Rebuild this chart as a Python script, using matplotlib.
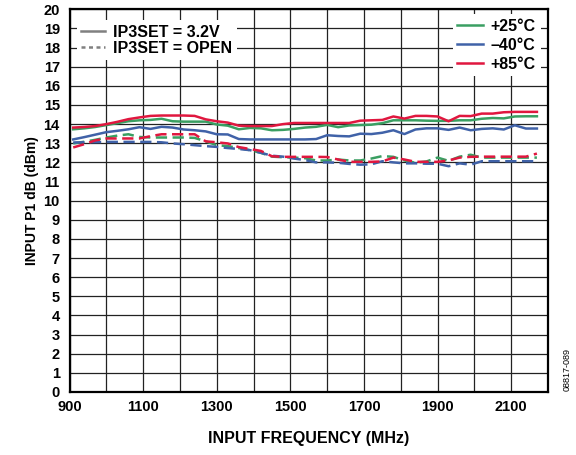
import matplotlib
matplotlib.use('Agg')
import matplotlib.pyplot as plt
from matplotlib.lines import Line2D

plt.rcParams['font.family'] = ['Liberation Sans', 'DejaVu Sans']
plt.rcParams['font.weight'] = 'bold'

freq = [910, 940, 970, 1000, 1030, 1060, 1090, 1120, 1150, 1180, 1210, 1240, 1270,
        1300, 1330, 1360, 1390, 1420, 1450, 1480, 1510, 1540, 1570, 1600, 1630, 1660,
        1690, 1720, 1750, 1780, 1810, 1840, 1870, 1900, 1930, 1960, 1990, 2020, 2050,
        2080, 2110, 2140, 2170]

# IP3SET = 3.2V (solid)
p25_32v = [13.73, 13.78, 13.85, 13.95, 14.05, 14.15, 14.2, 14.22, 14.28, 14.15, 14.13, 14.13, 14.13,
           13.98, 13.92, 13.73, 13.8, 13.78, 13.68, 13.7, 13.75, 13.82, 13.86, 13.96, 13.84, 13.93,
           13.95, 13.97, 14.05, 14.2, 14.2, 14.2, 14.18, 14.17, 14.17, 14.2, 14.2, 14.28, 14.32,
           14.3, 14.4, 14.41, 14.41]
m40_32v = [13.2, 13.32, 13.45, 13.58, 13.65, 13.73, 13.84, 13.75, 13.86, 13.82, 13.72, 13.68, 13.62,
           13.47, 13.46, 13.22, 13.2, 13.2, 13.2, 13.2, 13.2, 13.2, 13.22, 13.42, 13.38, 13.36,
           13.5, 13.48, 13.55, 13.68, 13.48, 13.72, 13.78, 13.78, 13.7, 13.82, 13.68, 13.75, 13.78,
           13.72, 13.94, 13.77, 13.77]
p85_32v = [13.82, 13.85, 13.9, 14.0, 14.12, 14.26, 14.35, 14.43, 14.45, 14.45, 14.45, 14.43, 14.25,
           14.15, 14.08, 13.92, 13.9, 13.9, 13.9, 14.0, 14.06, 14.06, 14.06, 14.06, 14.06, 14.06,
           14.18, 14.2, 14.22, 14.4, 14.29, 14.43, 14.43, 14.4, 14.15, 14.43, 14.42, 14.55, 14.55,
           14.62, 14.64, 14.64, 14.64]

# IP3SET = OPEN (dashed)
p25_open = [12.99, 13.08, 13.18, 13.3, 13.4, 13.47, 13.33, 13.3, 13.3, 13.3, 13.3, 13.28, 13.1,
            12.9, 12.85, 12.75, 12.64, 12.5, 12.3, 12.27, 12.25, 12.22, 12.1, 12.1, 12.15, 12.1,
            12.1, 12.2, 12.33, 12.29, 12.1, 11.98, 12.05, 12.25, 12.08, 12.3, 12.4, 12.25, 12.25,
            12.25, 12.25, 12.25, 12.25]
m40_open = [13.04, 13.05, 13.06, 13.07, 13.07, 13.07, 13.07, 13.07, 13.05, 12.99, 12.95, 12.9, 12.85,
            12.81, 12.75, 12.7, 12.64, 12.5, 12.35, 12.3, 12.2, 12.12, 12.0, 12.0, 11.98, 11.92,
            11.88, 11.9, 12.06, 12.0, 11.95, 11.95, 11.93, 11.93, 11.8, 11.95, 11.88, 12.06, 12.06,
            12.06, 12.06, 12.06, 12.06]
p85_open = [12.78, 12.95, 13.15, 13.25, 13.25, 13.25, 13.25, 13.37, 13.47, 13.47, 13.47, 13.47, 13.1,
            13.05, 12.99, 12.8, 12.7, 12.6, 12.32, 12.29, 12.29, 12.29, 12.29, 12.28, 12.15, 12.03,
            12.03, 12.03, 12.05, 12.25, 12.15, 12.03, 12.03, 12.03, 12.1, 12.25, 12.29, 12.3, 12.3,
            12.3, 12.3, 12.3, 12.46]

green = '#3a9f62'
blue = '#4062a8'
red = '#e0173f'

fig = plt.figure(figsize=(5.76, 4.55), dpi=100)
ax = fig.add_axes([0.1207, 0.1385, 0.8306, 0.841])

dash = (0, (4.5, 2.2))
lw = 1.8
ax.plot(freq, p25_open, color=green, lw=lw, ls=dash)
ax.plot(freq, m40_open, color=blue, lw=lw, ls=dash)
ax.plot(freq, p85_open, color=red, lw=lw, ls=dash)
ax.plot(freq, p25_32v, color=green, lw=lw)
ax.plot(freq, m40_32v, color=blue, lw=lw)
ax.plot(freq, p85_32v, color=red, lw=lw)

ax.set_xlim(900, 2200)
ax.set_ylim(0, 20)
ax.set_xticks(range(900, 2201, 100))
ax.set_xticklabels([str(f) if (f - 900) % 200 == 0 and f < 2200 else '' for f in range(900, 2201, 100)])
ax.set_yticks(range(0, 21))
ax.tick_params(length=0, labelsize=10.5)
ax.tick_params(axis='x', pad=6)
ax.tick_params(axis='y', pad=7)
ax.grid(True, color='#222222', lw=0.9)
ax.set_axisbelow(True)
for s in ax.spines.values():
    s.set_linewidth(1.6)

ax.set_xlabel('INPUT FREQUENCY (MHz)', fontsize=11.5, fontweight='bold', labelpad=12)
ax.set_ylabel('INPUT P1 dB (dBm)', fontsize=10, fontweight='bold', labelpad=3)

gray = '#808080'
h1 = [Line2D([], [], color=gray, lw=lw),
      Line2D([], [], color=gray, lw=lw, ls=(0, (1.6, 1.4)))]
leg1 = ax.legend(h1, ['IP3SET = 3.2V', 'IP3SET = OPEN'], loc='upper left',
                 bbox_to_anchor=(0.015, 0.972), frameon=True, fancybox=False,
                 framealpha=1, edgecolor='none', fontsize=11.5, handlelength=1.45,
                 handletextpad=0.5, labelspacing=0.05, borderpad=0.3, borderaxespad=0.0)
ax.add_artist(leg1)
h2 = [Line2D([], [], color=green, lw=lw),
      Line2D([], [], color=blue, lw=lw),
      Line2D([], [], color=red, lw=lw)]
ax.legend(h2, ['+25°C', '–40°C', '+85°C'], loc='upper right',
          bbox_to_anchor=(0.985, 0.988), frameon=True, fancybox=False,
          framealpha=1, edgecolor='none', fontsize=11.5, handlelength=1.6,
          handletextpad=0.5, labelspacing=0.25, borderpad=0.3, borderaxespad=0.0)

fig.text(0.984, 0.187, '08817-089', rotation=90, fontsize=6.5, fontweight='normal',
         ha='center', va='center')

fig.savefig('out.png', dpi=100)
